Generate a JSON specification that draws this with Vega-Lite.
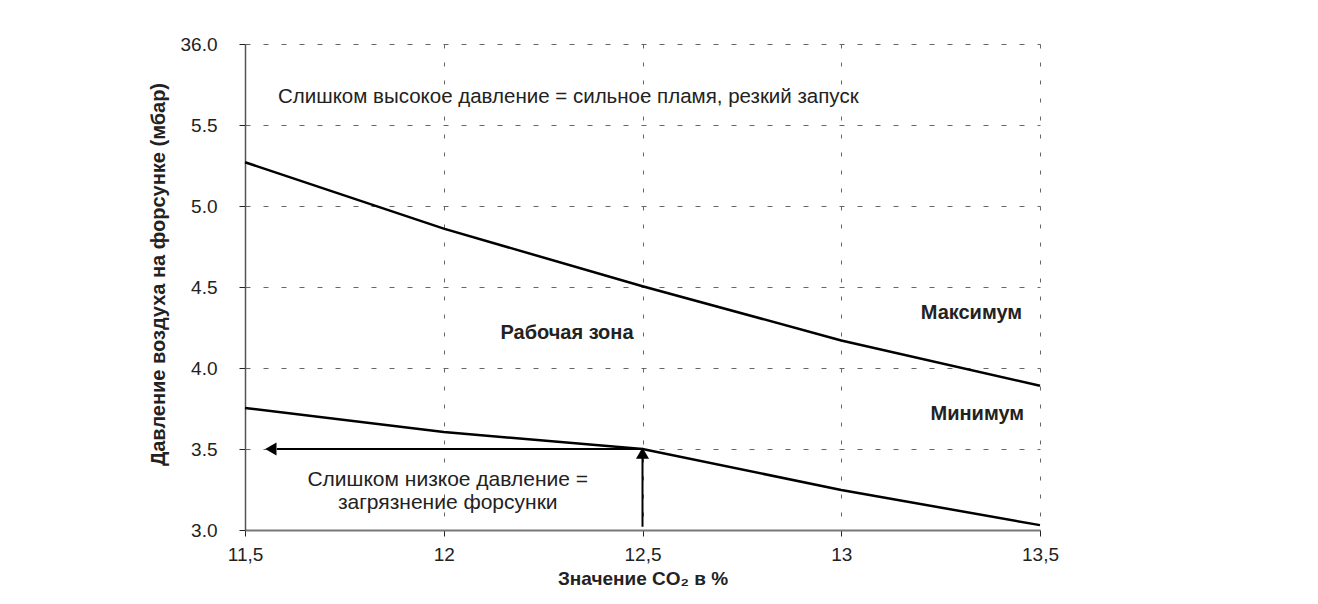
{
  "$schema": "https://vega.github.io/schema/vega-lite/v6.json",
  "autosize": {"type": "none"},
  "padding": {"left": 245, "top": 44, "right": 278, "bottom": 74},
  "width": 795,
  "height": 486,
  "background": "white",
  "config": {
    "view": {"stroke": null},
    "font": "Liberation Sans",
    "text": {"font": "Liberation Sans"}
  },
  "datasets": {
    "curves": [
      {"co2": 11.5, "p": 5.27, "series": "Максимум"},
      {"co2": 12.0, "p": 4.86, "series": "Максимум"},
      {"co2": 12.5, "p": 4.505, "series": "Максимум"},
      {"co2": 13.0, "p": 4.17, "series": "Максимум"},
      {"co2": 13.5, "p": 3.89, "series": "Максимум"},
      {"co2": 11.5, "p": 3.753, "series": "Минимум"},
      {"co2": 12.0, "p": 3.605, "series": "Минимум"},
      {"co2": 12.5, "p": 3.5, "series": "Минимум"},
      {"co2": 13.0, "p": 3.247, "series": "Минимум"},
      {"co2": 13.5, "p": 3.03, "series": "Минимум"}
    ],
    "arrows": [
      {"x1": 12.5, "y1": 3.5, "x2": 11.58, "y2": 3.5},
      {"x1": 12.5, "y1": 3.02, "x2": 12.5, "y2": 3.45}
    ],
    "heads": [
      {"x": 11.565, "y": 3.5, "shape": "triangle-left"},
      {"x": 12.5, "y": 3.475, "shape": "triangle-up"}
    ],
    "labels": [
      {"x": 11.583, "y": 5.673, "text": "Слишком высокое давление = сильное пламя, резкий запуск", "kind": "left"},
      {"x": 12.31, "y": 4.216, "text": "Рабочая зона", "kind": "boldcenter"},
      {"x": 13.455, "y": 4.34, "text": "Максимум", "kind": "boldright"},
      {"x": 13.46, "y": 3.716, "text": "Минимум", "kind": "boldright"},
      {"x": 12.01, "y": 3.31, "text": "Слишком низкое давление =", "kind": "center"},
      {"x": 12.01, "y": 3.167, "text": "загрязнение форсунки", "kind": "center"}
    ]
  },
  "layer": [
    {
      "data": {"name": "curves"},
      "mark": {"type": "line", "color": "black", "strokeWidth": 2.5},
      "encoding": {
        "x": {
          "field": "co2", "type": "quantitative",
          "scale": {"domain": [11.5, 13.5], "nice": false, "zero": false},
          "axis": {
            "values": [11.5, 12, 12.5, 13, 13.5],
            "labelExpr": "replace(toString(datum.value), '.', ',')",
            "labelFlush": false,
            "title": "Значение CO₂ в %",
            "titleFontSize": 19, "titleFontWeight": "bold", "titleColor": "#222",
            "titlePadding": 5,
            "labelFontSize": 19, "labelColor": "#222", "labelPadding": 9,
            "tickSize": 6, "tickColor": "#222",
            "domainColor": "#777", "domainWidth": 2,
            "grid": true, "gridColor": "#666", "gridDash": [4, 14], "gridWidth": 1
          }
        },
        "y": {
          "field": "p", "type": "quantitative",
          "scale": {"domain": [3, 6], "nice": false, "zero": false},
          "axis": {
            "values": [3, 3.5, 4, 4.5, 5, 5.5, 6],
            "labelExpr": "datum.value == 6 ? '36.0' : format(datum.value, '.1f')",
            "labelFlush": false,
            "title": "Давление воздуха на форсунке (мбар)",
            "titleFontSize": 20, "titleFontWeight": "bold", "titleColor": "#222",
            "titlePadding": 12, "titleY": 230,
            "labelFontSize": 19, "labelColor": "#222", "labelPadding": 22,
            "tickSize": 6, "tickColor": "#222",
            "domainColor": "#555", "domainWidth": 1.5,
            "grid": true, "gridColor": "#666", "gridDash": [5, 13], "gridWidth": 1
          }
        },
        "detail": {"field": "series"}
      }
    },
    {
      "data": {"name": "arrows"},
      "mark": {"type": "rule", "color": "black", "strokeWidth": 2},
      "encoding": {
        "x": {"field": "x1", "type": "quantitative"},
        "y": {"field": "y1", "type": "quantitative"},
        "x2": {"field": "x2"},
        "y2": {"field": "y2"}
      }
    },
    {
      "data": {"name": "heads"},
      "mark": {"type": "point", "filled": true, "color": "black", "opacity": 1, "size": 170},
      "encoding": {
        "x": {"field": "x", "type": "quantitative"},
        "y": {"field": "y", "type": "quantitative"},
        "shape": {"field": "shape", "type": "nominal", "scale": null}
      }
    },
    {
      "data": {"name": "labels"},
      "transform": [{"filter": "datum.kind == 'left'"}],
      "mark": {"type": "text", "fontSize": 20.5, "color": "#222", "baseline": "middle", "align": "left"},
      "encoding": {
        "x": {"field": "x", "type": "quantitative"},
        "y": {"field": "y", "type": "quantitative"},
        "text": {"field": "text"}
      }
    },
    {
      "data": {"name": "labels"},
      "transform": [{"filter": "datum.kind == 'center'"}],
      "mark": {"type": "text", "fontSize": 21, "color": "#222", "baseline": "middle", "align": "center"},
      "encoding": {
        "x": {"field": "x", "type": "quantitative"},
        "y": {"field": "y", "type": "quantitative"},
        "text": {"field": "text"}
      }
    },
    {
      "data": {"name": "labels"},
      "transform": [{"filter": "datum.kind == 'boldcenter'"}],
      "mark": {"type": "text", "fontSize": 20, "fontWeight": "bold", "color": "#222", "baseline": "middle", "align": "center"},
      "encoding": {
        "x": {"field": "x", "type": "quantitative"},
        "y": {"field": "y", "type": "quantitative"},
        "text": {"field": "text"}
      }
    },
    {
      "data": {"name": "labels"},
      "transform": [{"filter": "datum.kind == 'boldright'"}],
      "mark": {"type": "text", "fontSize": 20, "fontWeight": "bold", "color": "#222", "baseline": "middle", "align": "right"},
      "encoding": {
        "x": {"field": "x", "type": "quantitative"},
        "y": {"field": "y", "type": "quantitative"},
        "text": {"field": "text"}
      }
    }
  ]
}
